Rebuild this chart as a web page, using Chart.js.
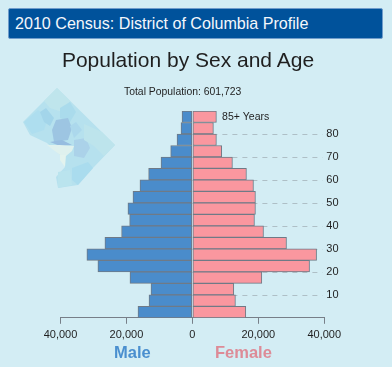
<!DOCTYPE html>
<html>
<head>
<meta charset="utf-8">
<title>Population by Sex and Age</title>
<script src="https://cdn.jsdelivr.net/npm/chart.js@4/dist/chart.umd.min.js"></script>
<style>
    html, body { margin: 0; padding: 0; background: #d3edf4; overflow: hidden; }
    body { width: 392px; height: 367px; position: relative; font-family: "Liberation Sans", Arial, sans-serif; color: #1f1f1f; }
    #banner { position: absolute; left: 8px; top: 8px; width: 375px; height: 31px; box-sizing: border-box; background: #00529b; border: 1px solid #6f9ccb; border-radius: 2px; color: #f4f7fb; font-size: 16.1px; line-height: 29px; padding-left: 6px; }
    #title { position: absolute; left: 0; top: 45px; width: 376px; text-align: center; font-size: 21px; line-height: 30px; }
    #total { position: absolute; left: 124px; top: 85px; font-size: 10.4px; line-height: 13px; }
    #map { position: absolute; left: 0; top: 0; }
    #chart { position: absolute; left: 0; top: 0; }
    .sex { position: absolute; top: 342px; font-size: 16.5px; line-height: 20px; font-weight: bold; }
    #male { left: 114px; color: #4a8fcf; }
    #female { left: 215px; color: #dd8b97; }
</style>
</head>
<body>
<svg id="map" width="392" height="367">
    <polygon points="57,88 115,145 93,168 78,185 58,188 56,177 65,167 60,155 47,143 30,135 23,122" fill="#b6e1ee"/>
    <polygon points="57,88 44,101 50,108 62,112 70,101" fill="#bfe5ec"/>
    <polygon points="60,108 70,102 76,112 70,122 60,118" fill="#aadbec"/>
    <polygon points="24,122 38,110 48,118 44,130 32,134" fill="#aedeef"/>
    <polygon points="40,112 46,108 54,118 50,126 44,122" fill="#a3d5ea"/>
    <polygon points="56,120 68,118 72,128 68,140 54,142 52,130" fill="#9dc5e2"/>
    <polygon points="50,142 62,140 72,145 60,146" fill="#97bde0"/>
    <polygon points="47,145 60,145 74,146 72,151 66,156 60,155" fill="#dff1ee"/>
    <polygon points="60,155 66,155 65,167 60,160" fill="#e3f3ee"/>
    <polygon points="74,140 86,138 90,148 84,158 74,156" fill="#abd2e9"/>
    <polygon points="84,124 102,132 115,145 104,156 94,146 84,140" fill="#bde4ec"/>
    <polygon points="70,126 76,122 82,130 74,138" fill="#acd8ec"/>
    <polygon points="72,168 88,162 93,168 78,185 72,180" fill="#aadcee"/>
    <polygon points="58,172 70,170 72,185 58,188" fill="#bae4ee"/>
</svg>
<canvas id="chart" width="392" height="367"></canvas>
<div id="banner">2010 Census: District of Columbia Profile</div>
<div id="title">Population by Sex and Age</div>
<div id="total">Total Population: 601,723</div>
<div id="male" class="sex">Male</div>
<div id="female" class="sex">Female</div>

<script>
// First age of each five year group, oldest on top
const ageGroups = [85, 80, 75, 70, 65, 60, 55, 50, 45, 40, 35, 30, 25, 20, 15, 10, 5, 0];

const maleValues = [3140, 3450, 4660, 6580, 9520, 13270, 15900, 18020, 19550, 19030, 21470, 26530, 32000, 28660, 18930, 12560, 13160, 16500];
const femaleValues = [7290, 6380, 7290, 8900, 12150, 16400, 18530, 19130, 19130, 18830, 21570, 28550, 37670, 35540, 21060, 12560, 13060, 16200];

const guideAges = [10, 20, 30, 40, 50, 60, 70, 80];

// Dashed guides only run on the female side of the pyramid
const guidePlugin = {
    id: 'guides',
    beforeDatasetsDraw(chart) {
        const { ctx, scales } = chart;
        ctx.save();
        ctx.strokeStyle = '#aebfc6';
        ctx.lineWidth = 1;
        ctx.setLineDash([5, 5]);
        guideAges.forEach(age => {
            const y = Math.round(scales.y.getPixelForValue(age)) + 0.5;
            ctx.beginPath();
            ctx.moveTo(scales.x.getPixelForValue(0), y);
            ctx.lineTo(scales.x.getPixelForValue(39500), y);
            ctx.stroke();
        });
        ctx.restore();
    },
    afterDatasetsDraw(chart) {
        const { ctx, scales } = chart;
        ctx.save();
        ctx.fillStyle = '#1f1f1f';
        ctx.font = '10.5px "Liberation Sans"';
        ctx.textBaseline = 'middle';
        ctx.fillText('85+ Years', scales.x.getPixelForValue(9000), scales.y.getPixelForValue(87.5));
        ctx.restore();
    }
};

function toPoints(values) {
    return values.map((v, i) => ({ x: v, y: ageGroups[i] + 2.5 }));
}

const barStyle = { borderColor: '#6f7a86', borderWidth: 1, borderSkipped: false, grouped: false, barPercentage: 1, categoryPercentage: 1 };

new Chart(document.getElementById('chart').getContext('2d'), {
    type: 'bar',
    data: {
        datasets: [
            { label: 'Male', data: toPoints(maleValues.map(v => -v)), backgroundColor: '#4a8ccb', ...barStyle },
            { label: 'Female', data: toPoints(femaleValues), backgroundColor: '#fa979f', ...barStyle }
        ]
    },
    options: {
        indexAxis: 'y',
        responsive: false,
        animation: false,
        layout: { padding: { left: 60.5, top: 111, right: 51.5, bottom: 20 } },
        plugins: { legend: { display: false }, title: { display: false }, tooltip: { enabled: false } },
        scales: {
            x: {
                type: 'linear',
                min: -40000,
                max: 40000,
                grid: { drawOnChartArea: false, drawTicks: true, tickLength: 6, color: '#777f88' },
                border: { color: '#777f88' },
                ticks: {
                    stepSize: 20000,
                    maxRotation: 0,
                    padding: 5,
                    color: '#1f1f1f',
                    font: { family: 'Liberation Sans', size: 11 },
                    callback: v => Math.abs(v).toLocaleString('en-US')
                }
            },
            y: {
                type: 'linear',
                position: 'right',
                offset: false,
                min: 0,
                max: 90,
                grid: { display: false, tickLength: 0 },
                border: { display: false },
                ticks: {
                    stepSize: 10,
                    padding: 2,
                    color: '#1f1f1f',
                    font: { family: 'Liberation Sans', size: 11 },
                    callback: v => (guideAges.includes(v) ? String(v) : '')
                }
            }
        }
    },
    plugins: [guidePlugin]
});
</script>
</body>
</html>
